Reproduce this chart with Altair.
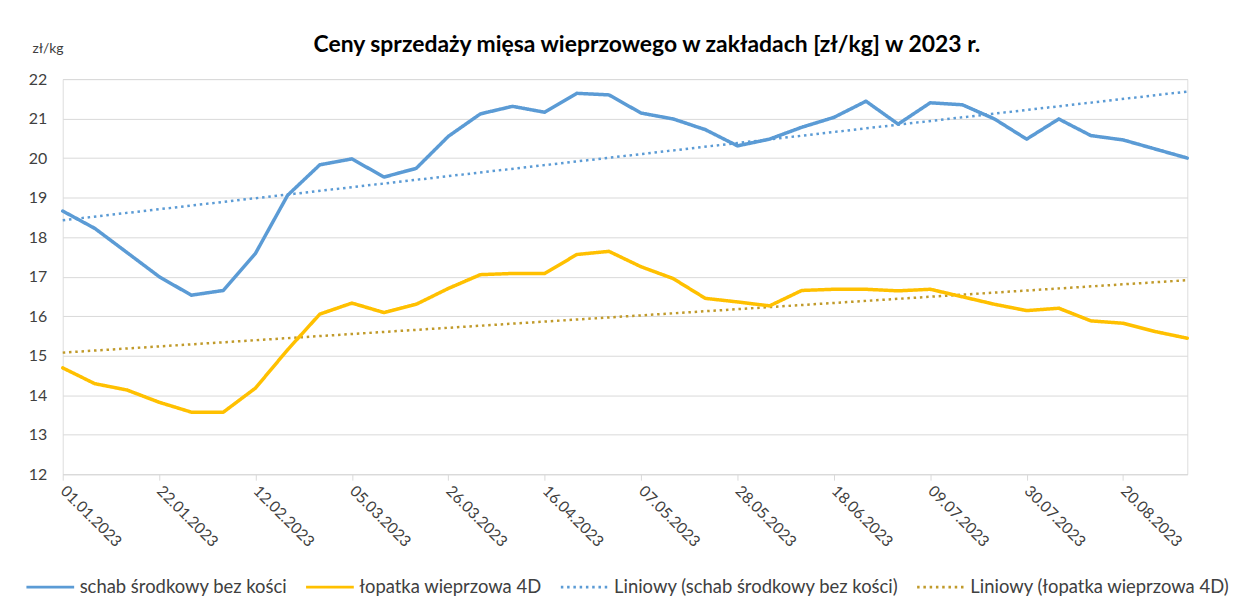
import json
import pandas as pd
import altair as alt

DATES = ["01.01.2023", "08.01.2023", "15.01.2023", "22.01.2023", "29.01.2023", "05.02.2023",
         "12.02.2023", "19.02.2023", "26.02.2023", "05.03.2023", "12.03.2023", "19.03.2023",
         "26.03.2023", "02.04.2023", "09.04.2023", "16.04.2023", "23.04.2023", "30.04.2023",
         "07.05.2023", "14.05.2023", "21.05.2023", "28.05.2023", "04.06.2023", "11.06.2023",
         "18.06.2023", "25.06.2023", "02.07.2023", "09.07.2023", "16.07.2023", "23.07.2023",
         "30.07.2023", "06.08.2023", "13.08.2023", "20.08.2023", "27.08.2023", "03.09.2023"]

BLUE = [18.66, 18.22, 17.61, 17.00, 16.53, 16.65, 17.59, 19.06, 19.83, 19.98, 19.52, 19.74,
        20.55, 21.12, 21.31, 21.16, 21.64, 21.60, 21.14, 20.99, 20.72, 20.31, 20.48, 20.78,
        21.03, 21.44, 20.86, 21.40, 21.35, 20.99, 20.48, 20.99, 20.57, 20.46, 20.23, 20.00]

YELLOW = [14.69, 14.29, 14.13, 13.82, 13.57, 13.57, 14.18, 15.15, 16.05, 16.33, 16.09, 16.30,
          16.70, 17.05, 17.08, 17.08, 17.56, 17.64, 17.25, 16.95, 16.45, 16.36, 16.26, 16.65,
          16.68, 16.68, 16.64, 16.68, 16.49, 16.30, 16.14, 16.20, 15.88, 15.82, 15.61, 15.44]

SERIES = ["schab środkowy bez kości", "łopatka wieprzowa 4D"]
TREND = ["Liniowy (schab środkowy bez kości)", "Liniowy (łopatka wieprzowa 4D)"]
LEGEND = SERIES + TREND
COLORS = ["#5B9BD5", "#FFC000", "#5B9BD5", "#C09A2A"]
DASHES = [[1, 0], [1, 0], [2.5, 3.8], [2.5, 3.8]]
TICK_IDX = list(range(0, len(DATES), 3))
Y_TICKS = list(range(12, 23))

TITLE = "Ceny sprzedaży mięsa wieprzowego w zakładach [zł/kg] w 2023 r."
FONT = "Lato"

rows = []
for i, d in enumerate(DATES):
    rows.append({"t": i, "date": d, "v": BLUE[i], "leg": SERIES[0], "trend": TREND[0]})
    rows.append({"t": i, "date": d, "v": YELLOW[i], "leg": SERIES[1], "trend": TREND[1]})
df = pd.DataFrame(rows)

x = alt.X("t:Q",
          scale=alt.Scale(domain=[0, len(DATES) - 1], nice=False, zero=False),
          axis=alt.Axis(values=TICK_IDX,
                        labelExpr=f"{json.dumps(DATES)}[datum.value]",
                        title=None, labelAngle=45, labelAlign="left", labelBaseline="middle",
                        labelPadding=8, grid=False, domainColor="#d9d9d9", tickColor="#d9d9d9",
                        tickSize=6, labelFontSize=15.5, labelColor="#404040", labelFont=FONT,
                        labelOverlap=False))
y = alt.Y("v:Q",
          scale=alt.Scale(domain=[12, 22], nice=False, zero=False),
          axis=alt.Axis(values=Y_TICKS, title="zł/kg", titleAngle=0, titleAlign="left",
                        titleBaseline="alphabetic", titleX=-31, titleY=-27,
                        titleFontWeight="normal", titleFontSize=14, titleColor="#404040",
                        titleFont=FONT, labelFont=FONT, labelFontSize=16, labelColor="#404040",
                        labelPadding=16, domain=False, ticks=False, gridColor="#d9d9d9"))

leg = alt.Legend(title=None, orient="none", legendX=-38, legendY=485, direction="horizontal",
                 columns=4, symbolType="stroke", symbolSize=2300, symbolStrokeWidth=3,
                 labelFont=FONT, labelFontSize=18.5, labelColor="#404040", columnPadding=12,
                 labelLimit=500, labelOffset=4)
color = alt.Color("leg:N", scale=alt.Scale(domain=LEGEND, range=COLORS), legend=leg)
dash = alt.StrokeDash("leg:N", scale=alt.Scale(domain=LEGEND, range=DASHES), legend=leg)

base = alt.Chart(df)

lines = base.mark_line(strokeWidth=3.5, strokeJoin="round", strokeCap="round").encode(
    x=x, y=y, color=color, strokeDash=dash)

trends = base.transform_regression("t", "v", groupby=["trend"]).transform_calculate(
    leg="datum.trend").mark_line(strokeWidth=2.5, strokeCap="butt").encode(
    x=x, y=y, color=color, strokeDash=dash)

chart = alt.layer(trends, lines).properties(
    width=1130, height=397,
    autosize=alt.AutoSizeParams(type="none"),
    padding={"left": 55, "top": 70, "right": 60, "bottom": 125},
    title=alt.TitleParams(TITLE, font=FONT, fontSize=23, fontWeight="bold", color="#000000",
                          anchor="middle", frame="group", dx=22, dy=34, offset=0,
                          baseline="alphabetic"),
).configure_view(stroke=None).configure(background="white")

chart.save("out.html", embed_options={"renderer": "svg", "actions": False})
